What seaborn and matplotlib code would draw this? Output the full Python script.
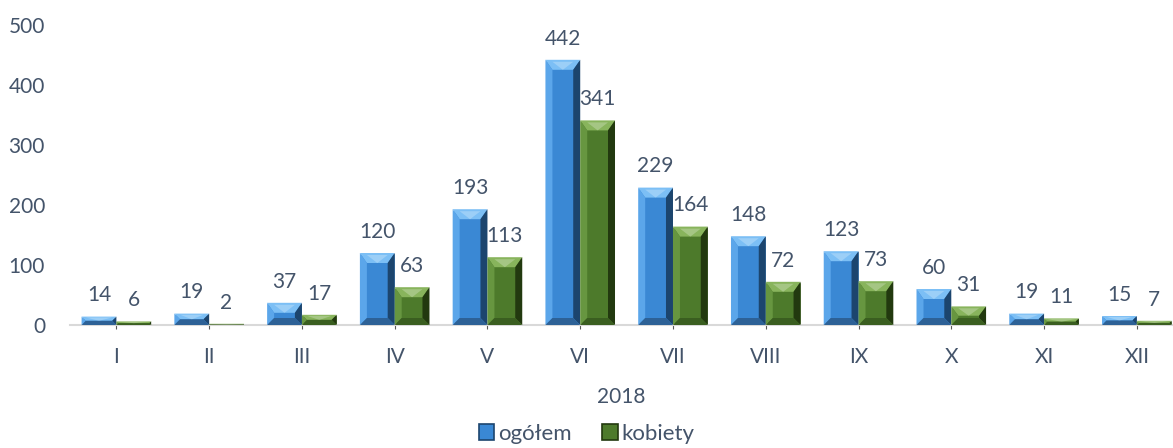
import matplotlib
matplotlib.use("Agg")
import matplotlib.pyplot as plt
import seaborn as sns
import pandas as pd
from matplotlib.patches import Polygon, Rectangle
from matplotlib.transforms import IdentityTransform

months = ["I", "II", "III", "IV", "V", "VI", "VII", "VIII", "IX", "X", "XI", "XII"]
ogolem = [14, 19, 37, 120, 193, 442, 229, 148, 123, 60, 19, 15]
kobiety = [6, 2, 17, 63, 113, 341, 164, 72, 73, 31, 11, 7]
series = ["ogółem", "kobiety"]
year_label = "2018"

df = pd.DataFrame({
    "miesiac": months * 2,
    "wartosc": ogolem + kobiety,
    "seria": [series[0]] * len(months) + [series[1]] * len(months),
})

sns.set_theme(style="white")
plt.rcParams["font.family"] = ["Lato", "DejaVu Sans"]
text_col = "#44546a"
fs = 15

# face colours: body, top, left, right, bottom
shades = {
    "ogółem": ["#3a88d4", "#7cbff5", "#5ba6ea", "#1c456e", "#2d6196"],
    "kobiety": ["#4d7a2b", "#88b45c", "#679640", "#22390f", "#3a5e20"],
}

fig = plt.figure(figsize=(11.73, 4.48), dpi=100)
ax = fig.add_axes([70 / 1173, 123 / 448, 1 - 70 / 1173, 300 / 448])

sns.barplot(data=df, x="miesiac", y="wartosc", hue="seria", order=months,
            hue_order=series, palette=[shades[s][0] for s in series],
            width=0.75, saturation=1, ax=ax, legend=False)

ax.set_ylim(0, 500)
ax.set_xlim(-0.5, 11.39)
ax.set_yticks([0, 100, 200, 300, 400, 500])
ax.tick_params(axis="y", length=0, labelsize=fs, labelcolor=text_col, pad=18)
ax.tick_params(axis="x", length=3, color="#595959", labelsize=fs,
               labelcolor=text_col, pad=13, bottom=True, direction="out", width=0.8)
ax.set_xlabel(year_label, fontsize=fs, color=text_col, labelpad=14)
ax.set_ylabel("")
for side in ["top", "right", "left"]:
    ax.spines[side].set_visible(False)
ax.spines["bottom"].set_color("#d9d9d9")
ax.spines["bottom"].set_linewidth(1.5)

# bevel overlays on each bar, built from the bar patches themselves
n = len(months)
for i, patch in enumerate(ax.patches[: 2 * n]):
    s = series[i // n]
    body, top, left, right, bottom = shades[s]
    if patch.get_height() <= 0:
        continue
    (x0, y0), (x1, y1) = ax.transData.transform(
        [(patch.get_x(), 0), (patch.get_x() + patch.get_width(), patch.get_height())])
    h = y1 - y0
    bt = min(10, h / 2)
    bs = min(7, h / 2)
    faces = [
        ([(x0, y1), (x1, y1), (x1 - bs, y1 - bt), (x0 + bs, y1 - bt)], top),
        ([(x0, y0), (x0, y1), (x0 + bs, y1 - bt), (x0 + bs, y0 + bs)], left),
        ([(x1, y0), (x1, y1), (x1 - bs, y1 - bt), (x1 - bs, y0 + bs)], right),
        ([(x0, y0), (x1, y0), (x1 - bs, y0 + bs), (x0 + bs, y0 + bs)], bottom),
    ]
    for pts, c in faces:
        ax.add_patch(Polygon(pts, closed=True, facecolor=c, edgecolor="none",
                             transform=IdentityTransform(), clip_on=False, zorder=3))
    # highlight triangle on top face
    cx = (x0 + x1) / 2
    ax.add_patch(Polygon([(x0 + bs, y1 - bt * 0.2), (x1 - bs, y1 - bt * 0.2), (cx, y1 - bt)],
                         closed=True, facecolor="white", edgecolor="none", alpha=0.25,
                         transform=IdentityTransform(), clip_on=False, zorder=3))

for container in ax.containers:
    ax.bar_label(container, padding=8, fontsize=fs, color=text_col)

handles = [Rectangle((0, 0), 1, 1, facecolor=shades[s][0], edgecolor=shades[s][3], linewidth=1.2)
           for s in series]
fig.legend(handles, series, loc="lower center", ncol=2, frameon=False,
           bbox_to_anchor=(0.5, -0.035), fontsize=fs + 1, handlelength=0.7, handleheight=0.7,
           handletextpad=0.15, columnspacing=1.4, labelcolor=text_col)

fig.savefig("out.png", dpi=100)
